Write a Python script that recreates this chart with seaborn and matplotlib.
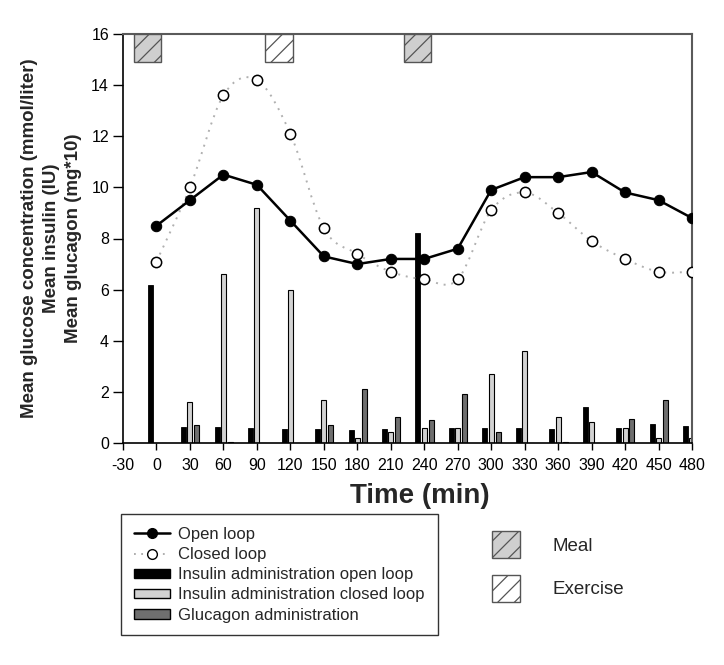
import numpy as np
import pandas as pd
import matplotlib
matplotlib.use("Agg")
import matplotlib.pyplot as plt
import seaborn as sns
from matplotlib.patches import Patch, Rectangle, PathPatch
from matplotlib.lines import Line2D
from matplotlib.path import Path

# ---- data ----
times = [0, 30, 60, 90, 120, 150, 180, 210, 240, 270, 300, 330, 360, 390, 420, 450, 480]
open_loop = [8.5, 9.5, 10.5, 10.1, 8.7, 7.3, 7.0, 7.2, 7.2, 7.6, 9.9, 10.4, 10.4, 10.6, 9.8, 9.5, 8.8]
closed_loop = [7.1, 10.0, 13.6, 14.2, 12.1, 8.4, 7.4, 6.7, 6.4, 6.4, 9.1, 9.8, 9.0, 7.9, 7.2, 6.7, 6.7]
insulin_open = [6.2, 0.61, 0.61, 0.6, 0.56, 0.55, 0.51, 0.55, 8.2, 0.58, 0.58, 0.6, 0.56, 1.4, 0.6, 0.73, 0.65]
insulin_closed = [0.0, 1.6, 6.6, 9.2, 6.0, 1.7, 0.18, 0.42, 0.6, 0.6, 2.7, 3.6, 1.0, 0.81, 0.6, 0.18, 0.2]
glucagon = [0.0, 0.7, 0.03, 0.0, 0.0, 0.7, 2.1, 1.0, 0.9, 1.9, 0.43, 0.0, 0.03, 0.0, 0.94, 1.7, 0.0]
meal_times = [-8, 234]
exercise_times = [110]
x_ticks = [-30, 0, 30, 60, 90, 120, 150, 180, 210, 240, 270, 300, 330, 360, 390, 420, 450, 480]
y_ticks = [0, 2, 4, 6, 8, 10, 12, 14, 16]

df = pd.DataFrame({"time": times, "open": open_loop, "closed": closed_loop})

sns.set_style("ticks")
plt.rcParams["font.family"] = ["Liberation Sans", "DejaVu Sans"]
plt.rcParams["axes.unicode_minus"] = False
plt.rcParams["hatch.linewidth"] = 0.9

fig = plt.figure(figsize=(7.24, 6.65), dpi=100)
ax = fig.add_axes([123 / 724, 1 - 443 / 665, (692 - 123) / 724, (443 - 34) / 665])

c_black = "#000000"
c_light = "#d2d2d2"
c_dark = "#6f6f6f"
bw = 4.5
t = np.array(times, dtype=float)
ax.bar(t - 5.6, insulin_open, width=bw, color=c_black, edgecolor="black", linewidth=0.6, zorder=2)
ax.bar(t, insulin_closed, width=bw, color=c_light, edgecolor="black", linewidth=0.8, zorder=2)
ax.bar(t + 6.2, glucagon, width=bw, color=c_dark, edgecolor="black", linewidth=0.8, zorder=2)

# closed loop smooth dotted curve (Catmull-Rom drawn as Bezier path)
pts = np.column_stack([t, np.array(closed_loop)])
verts = [tuple(pts[0])]
codes = [Path.MOVETO]
n = len(pts)
for i in range(n - 1):
    p0 = pts[max(i - 1, 0)]
    p1 = pts[i]
    p2 = pts[i + 1]
    p3 = pts[min(i + 2, n - 1)]
    c1 = p1 + (p2 - p0) / 6.0
    c2 = p2 - (p3 - p1) / 6.0
    verts += [tuple(c1), tuple(c2), tuple(p2)]
    codes += [Path.CURVE4] * 3
ax.add_patch(PathPatch(Path(verts, codes), facecolor="none", edgecolor="#b0b0b0",
                       linewidth=1.4, linestyle=(0, (1, 3)), zorder=3))
sns.scatterplot(data=df, x="time", y="closed", ax=ax, marker="o", s=55,
                facecolor="white", edgecolor="black", linewidth=1.1, zorder=4, legend=False)

sns.lineplot(data=df, x="time", y="open", ax=ax, color="black", linewidth=1.8,
             marker="o", markersize=7.5, markerfacecolor="black", markeredgecolor="black", zorder=5)

# meal / exercise boxes
for mt in meal_times:
    ax.add_patch(Rectangle((mt - 12.5, 14.9), 25, 1.1, facecolor="#cfcfcf", edgecolor="#555555",
                           hatch="//", linewidth=1.0, zorder=3))
for et in exercise_times:
    ax.add_patch(Rectangle((et - 12.5, 14.9), 25, 1.1, facecolor="white", edgecolor="#555555",
                           hatch="//", linewidth=1.0, zorder=3))

ax.set_xlim(-30, 480)
ax.set_ylim(0, 16)
ax.set_xticks(x_ticks)
ax.set_yticks(y_ticks)
ax.tick_params(axis="x", direction="out", length=5, width=1, pad=6, labelsize=11.5, colors="black")
ax.tick_params(axis="y", direction="out", length=7, width=1, pad=3, labelsize=11.5, colors="black")
for sp in ["left", "bottom"]:
    ax.spines[sp].set_color("black")
    ax.spines[sp].set_linewidth(1.2)
for sp in ["top", "right"]:
    ax.spines[sp].set_visible(True)
    ax.spines[sp].set_color("#5a5a5a")
    ax.spines[sp].set_linewidth(1.5)

ax.set_xlabel("Time (min)", fontsize=20, fontweight="bold")
ax.xaxis.set_label_coords(0.522, -0.13, transform=ax.transAxes)
ax.xaxis.label.set_va("center")
ax.set_ylabel("Mean glucose concentration (mmol/liter)\nMean insulin (IU)\nMean glucagon (mg*10)",
              fontsize=13.5, fontweight="bold", labelpad=7, linespacing=1.38)

handles = [
    Line2D([], [], color="black", linewidth=1.8, marker="o", markersize=7,
           markerfacecolor="black"),
    Line2D([], [], color="#a8a8a8", linewidth=1.3, linestyle=(0, (1, 3)), marker="o", markersize=7,
           markerfacecolor="white", markeredgecolor="black"),
    Patch(facecolor=c_black, edgecolor="black"),
    Patch(facecolor=c_light, edgecolor="black"),
    Patch(facecolor=c_dark, edgecolor="black"),
]
labels = ["Open loop", "Closed loop", "Insulin administration open loop",
          "Insulin administration closed loop", "Glucagon administration"]
leg = fig.legend(handles, labels, loc="upper left", bbox_to_anchor=(121 / 724, 1 - 514 / 665),
                 fontsize=12, frameon=True, fancybox=False, edgecolor="black",
                 handlelength=2.2, handleheight=0.5, labelspacing=0.32, handletextpad=0.5,
                 borderpad=0.75, borderaxespad=0)
leg.get_frame().set_linewidth(1.0)

h2 = [Patch(facecolor="#cfcfcf", edgecolor="#555555", hatch="//"),
      Patch(facecolor="white", edgecolor="#555555", hatch="//")]
leg2 = fig.legend(h2, ["Meal", "Exercise"], loc="upper left",
                  bbox_to_anchor=(492 / 724, 1 - 531 / 665), fontsize=13.5, frameon=False,
                  handlelength=1.5, handleheight=1.84, labelspacing=0.9, handletextpad=1.75,
                  borderpad=0, borderaxespad=0)

fig.savefig("out.png", dpi=100)
